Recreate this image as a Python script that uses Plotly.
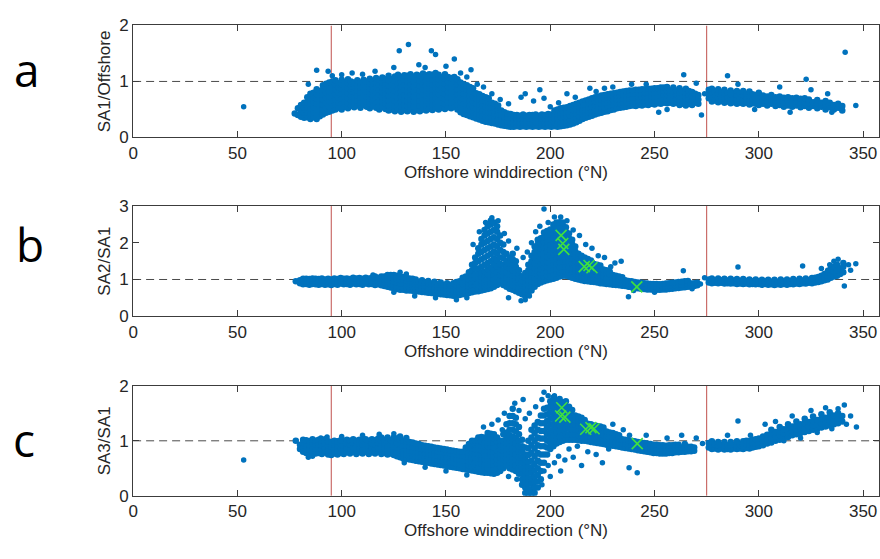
import plotly.graph_objects as go

# ---------------------------------------------------------------------------
# Data: wind-direction bins (deg N) with the ratio values observed in each bin
# ---------------------------------------------------------------------------

# Panel a: SA1 / Offshore
A_COLS = [
    (77.5, [0.43]), (79, [0.4, 0.52]), (80.5, [0.37, 0.47, 0.58]),
    (82, [0.35, 0.44, 0.53, 0.62]), (83.5, [0.36, 0.45, 0.54, 0.63, 0.72]),
    (85, [0.33, 0.42, 0.51, 0.6, 0.69, 0.78]), (86.5, [0.36, 0.45, 0.54, 0.63, 0.72, 0.8]),
    (88, [0.33, 0.42, 0.51, 0.6, 0.69, 0.77, 0.86]), (89.5, [0.38, 0.47, 0.56, 0.65, 0.74, 0.83]),
    (91, [0.41, 0.5, 0.59, 0.68, 0.77, 0.86, 0.93]), (92.5, [0.44, 0.53, 0.62, 0.71, 0.8, 0.89, 0.96]),
    (94, [0.46, 0.55, 0.64, 0.73, 0.82, 0.91, 0.98]), (95.5, [0.48, 0.57, 0.66, 0.75, 0.84, 0.93, 1.0]),
    (97, [0.5, 0.59, 0.68, 0.77, 0.86, 0.95, 1.02]), (98.5, [0.53, 0.62, 0.71, 0.8, 0.89, 0.97]),
    (100, [0.5, 0.6, 0.69, 0.78, 0.87, 0.95, 1.03]), (101.5, [0.55, 0.64, 0.73, 0.82, 0.91, 0.99]),
    (103, [0.52, 0.61, 0.7, 0.79, 0.88, 0.97, 1.04]), (104.5, [0.56, 0.65, 0.74, 0.83, 0.92, 1.0]),
    (106, [0.54, 0.63, 0.72, 0.81, 0.9, 0.98]), (107.5, [0.57, 0.66, 0.75, 0.84, 0.93, 1.02]),
    (109, [0.53, 0.62, 0.71, 0.8, 0.89, 0.98]), (110.5, [0.58, 0.67, 0.76, 0.85, 0.94, 1.03]),
    (112, [0.55, 0.64, 0.73, 0.82, 0.91, 1.0]), (113.5, [0.52, 0.61, 0.7, 0.79, 0.88, 0.97, 1.05]),
    (115, [0.56, 0.65, 0.74, 0.83, 0.92, 1.01]), (116.5, [0.53, 0.62, 0.71, 0.8, 0.89, 0.98, 1.06]),
    (118, [0.5, 0.59, 0.68, 0.77, 0.86, 0.95, 1.03]), (119.5, [0.54, 0.63, 0.72, 0.81, 0.9, 0.99, 1.07]),
    (121, [0.51, 0.6, 0.69, 0.78, 0.87, 0.96, 1.04]), (122.5, [0.48, 0.57, 0.66, 0.75, 0.84, 0.93, 1.02, 1.1]),
    (124, [0.5, 0.59, 0.68, 0.77, 0.86, 0.95, 1.04]), (125.5, [0.47, 0.56, 0.65, 0.74, 0.83, 0.92, 1.01, 1.09]),
    (127, [0.5, 0.59, 0.68, 0.77, 0.86, 0.95, 1.04, 1.12]), (128.5, [0.46, 0.55, 0.64, 0.73, 0.82, 0.91, 1.0, 1.08]),
    (130, [0.49, 0.58, 0.67, 0.76, 0.85, 0.94, 1.03, 1.11]), (131.5, [0.47, 0.56, 0.65, 0.74, 0.83, 0.92, 1.01, 1.1]),
    (133, [0.5, 0.59, 0.68, 0.77, 0.86, 0.95, 1.04, 1.13]), (134.5, [0.46, 0.55, 0.64, 0.73, 0.82, 0.91, 1.0, 1.09]),
    (136, [0.49, 0.58, 0.67, 0.76, 0.85, 0.94, 1.03, 1.12]), (137.5, [0.47, 0.56, 0.65, 0.74, 0.83, 0.92, 1.01, 1.1]),
    (139, [0.5, 0.59, 0.68, 0.77, 0.86, 0.95, 1.04, 1.14]), (140.5, [0.48, 0.57, 0.66, 0.75, 0.84, 0.93, 1.02, 1.11]),
    (142, [0.51, 0.6, 0.69, 0.78, 0.87, 0.96, 1.05, 1.13]), (143.5, [0.49, 0.58, 0.67, 0.76, 0.85, 0.94, 1.03, 1.12]),
    (145, [0.52, 0.61, 0.7, 0.79, 0.88, 0.97, 1.06, 1.15]), (146.5, [0.5, 0.59, 0.68, 0.77, 0.86, 0.95, 1.04, 1.12]),
    (148, [0.53, 0.62, 0.71, 0.8, 0.89, 0.98, 1.07]), (149.5, [0.51, 0.6, 0.69, 0.78, 0.87, 0.96, 1.05, 1.13]),
    (151, [0.54, 0.63, 0.72, 0.81, 0.9, 0.99, 1.08]), (152.5, [0.52, 0.61, 0.7, 0.79, 0.88, 0.97, 1.06]),
    (154, [0.55, 0.64, 0.73, 0.82, 0.91, 1.0, 1.08]), (155.5, [0.5, 0.59, 0.68, 0.77, 0.86, 0.95, 1.04]),
    (157, [0.45, 0.54, 0.63, 0.72, 0.81, 0.9, 0.98]), (158.5, [0.42, 0.51, 0.6, 0.69, 0.78, 0.87, 0.95]),
    (160, [0.4, 0.49, 0.58, 0.67, 0.76, 0.85, 0.93]), (161.5, [0.38, 0.47, 0.56, 0.65, 0.74, 0.83, 0.9]),
    (163, [0.36, 0.45, 0.54, 0.63, 0.72, 0.81, 0.88]), (164.5, [0.34, 0.43, 0.52, 0.61, 0.7, 0.79]),
    (166, [0.32, 0.41, 0.5, 0.59, 0.68, 0.77]), (167.5, [0.3, 0.39, 0.48, 0.57, 0.66, 0.74]),
    (169, [0.28, 0.37, 0.46, 0.55, 0.64, 0.72]), (170.5, [0.27, 0.36, 0.45, 0.54, 0.63, 0.7]),
    (172, [0.26, 0.35, 0.44, 0.53, 0.62]), (173.5, [0.25, 0.34, 0.43, 0.52, 0.6]),
    (175, [0.23, 0.32, 0.41, 0.5, 0.57]), (176.5, [0.22, 0.31, 0.4, 0.48]),
    (178, [0.21, 0.29, 0.37, 0.45]), (179.5, [0.2, 0.28, 0.36, 0.43]),
    (181, [0.19, 0.27, 0.35, 0.42]), (182.5, [0.19, 0.26, 0.33, 0.4]),
    (184, [0.2, 0.27, 0.34, 0.4]), (185.5, [0.19, 0.26, 0.33, 0.39]),
    (187, [0.2, 0.27, 0.34, 0.41]), (188.5, [0.19, 0.26, 0.33, 0.39]),
    (190, [0.2, 0.27, 0.34, 0.4]), (191.5, [0.19, 0.26, 0.33, 0.4]),
    (193, [0.2, 0.27, 0.34, 0.41]), (194.5, [0.19, 0.26, 0.33, 0.39]),
    (196, [0.2, 0.27, 0.34, 0.41]), (197.5, [0.19, 0.26, 0.33, 0.4]),
    (199, [0.2, 0.27, 0.34, 0.42]), (200.5, [0.19, 0.26, 0.33, 0.41]),
    (202, [0.2, 0.27, 0.34, 0.42, 0.48]), (203.5, [0.19, 0.26, 0.34, 0.42, 0.5]),
    (205, [0.2, 0.28, 0.36, 0.44, 0.52]), (206.5, [0.21, 0.29, 0.37, 0.45, 0.53]),
    (208, [0.22, 0.3, 0.38, 0.46, 0.54]), (209.5, [0.23, 0.31, 0.39, 0.47, 0.56]),
    (211, [0.25, 0.33, 0.41, 0.49, 0.58]), (212.5, [0.27, 0.35, 0.43, 0.51, 0.6]),
    (214, [0.3, 0.38, 0.46, 0.54, 0.62]), (215.5, [0.33, 0.41, 0.49, 0.57, 0.64]),
    (217, [0.35, 0.43, 0.51, 0.59, 0.66]), (218.5, [0.37, 0.45, 0.53, 0.61, 0.68]),
    (220, [0.39, 0.47, 0.55, 0.63, 0.7]), (221.5, [0.41, 0.49, 0.57, 0.65, 0.72]),
    (223, [0.43, 0.51, 0.59, 0.67, 0.73]), (224.5, [0.44, 0.52, 0.6, 0.68, 0.75]),
    (226, [0.46, 0.54, 0.62, 0.7, 0.76]), (227.5, [0.47, 0.55, 0.63, 0.71, 0.77]),
    (229, [0.49, 0.57, 0.65, 0.72, 0.78]), (230.5, [0.5, 0.58, 0.66, 0.73, 0.79]),
    (232, [0.52, 0.6, 0.67, 0.74, 0.8]), (233.5, [0.53, 0.61, 0.68, 0.75, 0.81]),
    (235, [0.54, 0.62, 0.69, 0.76, 0.82]), (236.5, [0.55, 0.63, 0.7, 0.77, 0.83]),
    (238, [0.56, 0.63, 0.7, 0.77, 0.84]), (239.5, [0.57, 0.64, 0.71, 0.78, 0.84]),
    (241, [0.56, 0.64, 0.71, 0.78, 0.85]), (242.5, [0.58, 0.65, 0.72, 0.79, 0.85]),
    (244, [0.57, 0.65, 0.72, 0.79, 0.86]), (245.5, [0.59, 0.66, 0.73, 0.8, 0.86]),
    (247, [0.58, 0.66, 0.73, 0.8, 0.87]), (248.5, [0.6, 0.67, 0.74, 0.81, 0.87]),
    (250, [0.59, 0.67, 0.74, 0.81, 0.88]), (251.5, [0.61, 0.68, 0.75, 0.82, 0.88]),
    (253, [0.6, 0.68, 0.75, 0.82, 0.89]), (254.5, [0.62, 0.69, 0.76, 0.83, 0.89]),
    (256, [0.61, 0.69, 0.76, 0.83, 0.9]), (257.5, [0.62, 0.7, 0.77, 0.84]),
    (259, [0.6, 0.68, 0.75, 0.82, 0.89]), (260.5, [0.62, 0.7, 0.77, 0.84]),
    (262, [0.58, 0.66, 0.74, 0.81, 0.88]), (263.5, [0.6, 0.68, 0.76, 0.83]),
    (265, [0.57, 0.65, 0.73, 0.8, 0.87]), (266.5, [0.6, 0.68, 0.76, 0.83]),
    (268, [0.58, 0.66, 0.74, 0.81]), (269.5, [0.62, 0.7, 0.78]), (271, [0.6, 0.68, 0.76]),
    (276, [0.7, 0.78, 0.85]), (277.5, [0.64, 0.72, 0.8, 0.87]), (279, [0.66, 0.74, 0.82]),
    (280.5, [0.63, 0.71, 0.79, 0.86]), (282, [0.65, 0.73, 0.81]), (283.5, [0.62, 0.7, 0.78, 0.85]),
    (285, [0.64, 0.72, 0.8]), (286.5, [0.61, 0.69, 0.77, 0.84]), (288, [0.63, 0.71, 0.79]),
    (289.5, [0.6, 0.68, 0.76, 0.83]), (291, [0.62, 0.7, 0.78]), (292.5, [0.6, 0.68, 0.76, 0.83]),
    (294, [0.62, 0.7, 0.78]), (295.5, [0.59, 0.67, 0.75, 0.82]), (297, [0.61, 0.69, 0.77]),
    (298.5, [0.6, 0.68, 0.76]), (300, [0.58, 0.66, 0.74, 0.8]), (302, [0.6, 0.68, 0.75]),
    (304, [0.57, 0.65, 0.73]), (306, [0.6, 0.68, 0.76]), (308, [0.56, 0.64, 0.72]),
    (310, [0.58, 0.66, 0.73]), (312, [0.55, 0.63, 0.71]), (314, [0.57, 0.65, 0.72]),
    (316, [0.55, 0.63, 0.7]), (318, [0.57, 0.64, 0.71]), (320, [0.54, 0.62, 0.69]),
    (322, [0.56, 0.63, 0.7]), (324, [0.53, 0.61, 0.68]), (326, [0.56, 0.63]),
    (328, [0.52, 0.6, 0.67]), (330, [0.55, 0.62]), (332, [0.5, 0.58, 0.65]),
    (334, [0.54, 0.62]), (336, [0.5, 0.58]), (338, [0.53, 0.6]), (340, [0.48, 0.56]),
]
A_SPARSE = [
    (53, 0.55), (84, 0.95), (88, 1.2), (93.5, 1.18), (95.5, 1.1), (100, 1.12), (105, 1.15),
    (110, 1.13), (116, 1.18), (127.6, 1.55), (132, 1.66), (143, 1.55), (145, 1.48), (154, 1.4),
    (162, 1.21), (125, 1.25), (137, 1.3), (140, 1.25), (150, 1.27), (157, 1.15), (160, 1.08),
    (165, 0.95), (168, 0.9), (172, 0.78), (176, 0.68), (180, 0.6), (186, 0.72), (188, 0.78),
    (192, 0.65), (195, 0.85), (197, 0.7), (200, 0.55), (204, 0.62), (208, 0.78), (212, 0.72),
    (216, 0.58), (219, 0.88), (222, 0.82), (226, 0.88), (230, 0.9), (239, 0.95), (246, 0.95),
    (252, 0.45), (256, 0.5), (264, 1.12), (270, 0.97), (272.5, 0.4), (274, 0.78), (285, 1.1),
    (290, 0.95), (310, 0.9), (322.7, 1.04), (325, 0.85), (333, 0.78), (341.4, 1.52),
    (346.5, 0.57), (335, 0.45), (315, 0.45), (298, 0.5),
]

# Panel b: SA2 / SA1
B_COLS = [
    (78, [0.95]), (80, [0.9, 0.98]), (81.5, [0.87, 0.95, 1.02]), (83, [0.88, 0.96, 1.02]),
    (84.5, [0.86, 0.94, 1.01]), (86, [0.88, 0.96, 1.03]), (87.5, [0.87, 0.95, 1.02]),
    (89, [0.86, 0.94, 1.01]), (90.5, [0.88, 0.96, 1.03]), (92, [0.86, 0.94, 1.0]),
    (93.5, [0.87, 0.95, 1.02]), (95, [0.85, 0.93, 1.0]), (96.5, [0.88, 0.96, 1.03]),
    (98, [0.86, 0.94, 1.01]), (99.5, [0.89, 0.97, 1.04]), (101, [0.87, 0.95, 1.02]),
    (102.5, [0.88, 0.96, 1.03]), (104, [0.86, 0.94, 1.01]), (105.5, [0.89, 0.97, 1.05]),
    (107, [0.87, 0.95, 1.03]), (108.5, [0.88, 0.96, 1.04]), (110, [0.86, 0.94, 1.02]),
    (111.5, [0.89, 0.97, 1.05]), (113, [0.87, 0.95, 1.03]), (114.5, [0.88, 0.96, 1.05]),
    (116, [0.85, 0.94, 1.02, 1.08]), (117.5, [0.87, 0.96, 1.04]), (119, [0.84, 0.93, 1.02, 1.08]),
    (120.5, [0.82, 0.91, 1.0, 1.08]), (122, [0.8, 0.89, 0.98, 1.07, 1.12]),
    (123.5, [0.78, 0.87, 0.96, 1.05, 1.12]), (125, [0.76, 0.85, 0.94, 1.03, 1.12]),
    (126.5, [0.74, 0.83, 0.92, 1.01, 1.1]), (128, [0.72, 0.81, 0.9, 0.99, 1.08]),
    (129.5, [0.72, 0.81, 0.9, 0.99, 1.07]), (131, [0.7, 0.79, 0.88, 0.97, 1.05]),
    (132.5, [0.7, 0.79, 0.88, 0.96, 1.03]), (134, [0.69, 0.78, 0.87, 0.95, 1.02]),
    (135.5, [0.68, 0.77, 0.86, 0.94, 1.0]), (137, [0.67, 0.76, 0.85, 0.93]),
    (138.5, [0.66, 0.75, 0.84, 0.92, 0.98]), (140, [0.65, 0.74, 0.83, 0.91]),
    (141.5, [0.64, 0.73, 0.82, 0.9, 0.96]), (143, [0.63, 0.72, 0.81, 0.89]),
    (144.5, [0.62, 0.71, 0.8, 0.88, 0.94]), (146, [0.61, 0.7, 0.79, 0.87]),
    (147.5, [0.6, 0.69, 0.78, 0.86, 0.92]), (149, [0.59, 0.68, 0.77, 0.85]),
    (150.5, [0.58, 0.67, 0.76, 0.84, 0.9]), (152, [0.57, 0.66, 0.75, 0.84]),
    (153.5, [0.56, 0.65, 0.74, 0.83, 0.9]), (155, [0.57, 0.66, 0.75, 0.84, 0.93]),
    (156.5, [0.58, 0.67, 0.76, 0.85, 0.95]), (158, [0.6, 0.69, 0.78, 0.87, 0.97, 1.05]),
    (159.5, [0.62, 0.71, 0.8, 0.89, 0.98, 1.08]), (161, [0.63, 0.72, 0.81, 0.9, 1.0, 1.1, 1.2]),
    (162.5, [0.65, 0.74, 0.83, 0.92, 1.02, 1.12, 1.25, 1.4]),
    (164, [0.67, 0.76, 0.85, 0.94, 1.04, 1.14, 1.3, 1.45, 1.6]),
    (165.5, [0.68, 0.77, 0.86, 0.95, 1.05, 1.16, 1.3, 1.5, 1.7, 1.85]),
    (167, [0.7, 0.79, 0.88, 0.97, 1.07, 1.18, 1.35, 1.55, 1.75, 1.95, 2.1]),
    (168.5, [0.72, 0.81, 0.9, 0.99, 1.1, 1.22, 1.4, 1.6, 1.8, 2.0, 2.2, 2.35]),
    (170, [0.74, 0.83, 0.92, 1.02, 1.14, 1.28, 1.45, 1.65, 1.85, 2.05, 2.25, 2.45]),
    (171.5, [0.76, 0.86, 0.96, 1.06, 1.18, 1.32, 1.5, 1.7, 1.9, 2.1, 2.3, 2.5, 2.6]),
    (173, [0.8, 0.9, 1.0, 1.12, 1.25, 1.4, 1.58, 1.76, 1.95, 2.15, 2.35, 2.55]),
    (174.5, [0.85, 0.95, 1.06, 1.2, 1.35, 1.52, 1.7, 1.9, 2.1, 2.3, 2.45]),
    (176, [0.9, 1.0, 1.12, 1.26, 1.42, 1.6, 1.8, 2.0, 2.2]),
    (177.5, [0.85, 0.97, 1.1, 1.25, 1.4, 1.58, 1.75, 1.95]),
    (179, [0.8, 0.92, 1.05, 1.2, 1.35, 1.5, 1.7]),
    (180.5, [0.75, 0.87, 1.0, 1.15, 1.3, 1.45, 1.6]),
    (182, [0.72, 0.84, 0.97, 1.1, 1.25, 1.4, 1.55, 1.7]),
    (183.5, [0.68, 0.8, 0.93, 1.06, 1.2, 1.35, 1.5]),
    (185, [0.64, 0.76, 0.88, 1.0, 1.12, 1.25]),
    (186.5, [0.6, 0.72, 0.84, 0.96, 1.08]),
    (188, [0.55, 0.68, 0.8, 0.93, 1.05, 1.18]),
    (189.5, [0.6, 0.72, 0.85, 0.98, 1.1, 1.25, 1.4]),
    (191, [0.7, 0.82, 0.95, 1.08, 1.2, 1.35, 1.5, 1.65]),
    (192.5, [0.8, 0.92, 1.05, 1.18, 1.3, 1.45, 1.6, 1.75, 1.9]),
    (194, [0.88, 1.0, 1.12, 1.25, 1.38, 1.52, 1.66, 1.8, 1.95, 2.08]),
    (195.5, [0.92, 1.04, 1.16, 1.28, 1.42, 1.56, 1.7, 1.84, 1.98, 2.12]),
    (197, [0.95, 1.07, 1.2, 1.33, 1.46, 1.6, 1.74, 1.88, 2.02, 2.16, 2.28]),
    (198.5, [0.98, 1.1, 1.22, 1.35, 1.48, 1.62, 1.76, 1.9, 2.04, 2.18, 2.32]),
    (200, [1.0, 1.12, 1.25, 1.38, 1.52, 1.66, 1.8, 1.94, 2.08, 2.22, 2.36]),
    (201.5, [1.02, 1.14, 1.27, 1.4, 1.54, 1.68, 1.82, 1.96, 2.1, 2.24, 2.38, 2.5]),
    (203, [1.05, 1.17, 1.3, 1.43, 1.57, 1.71, 1.85, 1.99, 2.13, 2.27, 2.41, 2.55]),
    (204.5, [1.08, 1.2, 1.33, 1.46, 1.6, 1.74, 1.88, 2.02, 2.16, 2.3, 2.44, 2.56]),
    (206, [1.1, 1.22, 1.35, 1.48, 1.62, 1.76, 1.9, 2.04, 2.18, 2.32, 2.45, 2.55]),
    (207.5, [1.1, 1.22, 1.35, 1.48, 1.62, 1.76, 1.9, 2.04, 2.18, 2.3, 2.42]),
    (209, [1.08, 1.2, 1.33, 1.46, 1.6, 1.74, 1.88, 2.0, 2.12, 2.25]),
    (210.5, [1.05, 1.17, 1.3, 1.43, 1.56, 1.7, 1.83, 1.96, 2.08]),
    (212, [1.02, 1.14, 1.26, 1.38, 1.5, 1.63, 1.76, 1.9]),
    (213.5, [1.0, 1.11, 1.22, 1.34, 1.46, 1.58, 1.7]),
    (215, [0.98, 1.08, 1.19, 1.3, 1.42, 1.54, 1.65]),
    (216.5, [0.96, 1.06, 1.17, 1.28, 1.39, 1.5, 1.6]),
    (218, [0.95, 1.05, 1.15, 1.25, 1.36, 1.47, 1.56]),
    (219.5, [0.94, 1.04, 1.14, 1.24, 1.34, 1.44, 1.52]),
    (221, [0.93, 1.03, 1.13, 1.23, 1.33, 1.42]), (222.5, [0.92, 1.02, 1.12, 1.22, 1.32, 1.4]),
    (224, [0.9, 1.0, 1.1, 1.2, 1.3, 1.38]), (225.5, [0.89, 0.99, 1.09, 1.18, 1.27]),
    (227, [0.88, 0.98, 1.07, 1.16, 1.25]), (228.5, [0.87, 0.96, 1.05, 1.14, 1.22]),
    (230, [0.86, 0.95, 1.04, 1.12]), (231.5, [0.85, 0.94, 1.02, 1.1]),
    (233, [0.84, 0.93, 1.01, 1.08]), (234.5, [0.83, 0.92, 1.0, 1.06]),
    (236, [0.82, 0.9, 0.98]), (237.5, [0.8, 0.88, 0.96]), (239, [0.79, 0.87, 0.95]),
    (240.5, [0.77, 0.85, 0.93]), (242, [0.76, 0.84, 0.92]), (243.5, [0.75, 0.83, 0.91]),
    (245, [0.74, 0.82, 0.9]), (246.5, [0.73, 0.81, 0.89]), (248, [0.73, 0.81, 0.88]),
    (249.5, [0.72, 0.8, 0.88]), (251, [0.72, 0.8, 0.88]), (252.5, [0.72, 0.8, 0.87]),
    (254, [0.73, 0.81, 0.88]), (255.5, [0.73, 0.81, 0.89]), (257, [0.74, 0.82, 0.9]),
    (258.5, [0.75, 0.83, 0.91]), (260, [0.76, 0.84, 0.92]), (261.5, [0.77, 0.85, 0.93]),
    (263, [0.78, 0.86, 0.94]), (264.5, [0.79, 0.87, 0.95]), (266, [0.8, 0.88, 0.96]),
    (267.5, [0.81, 0.89]), (269, [0.82, 0.9]), (270.5, [0.84, 0.91]),
    (276, [0.92, 1.0]), (277.5, [0.9, 0.97, 1.03]), (279, [0.91, 0.98]),
    (280.5, [0.9, 0.97, 1.03]), (282, [0.91, 0.98]), (283.5, [0.89, 0.96, 1.02]),
    (285, [0.9, 0.97]), (286.5, [0.89, 0.96, 1.02]), (288, [0.9, 0.97]),
    (289.5, [0.88, 0.95, 1.01]), (291, [0.89, 0.96]), (292.5, [0.88, 0.95, 1.01]),
    (294, [0.89, 0.96]), (295.5, [0.87, 0.94, 1.0]), (297, [0.88, 0.95]),
    (298.5, [0.87, 0.94, 1.0]), (300, [0.88, 0.95]), (301.5, [0.86, 0.93, 0.99]),
    (303, [0.88, 0.95]), (304.5, [0.86, 0.93, 0.99]), (306, [0.87, 0.94]),
    (307.5, [0.85, 0.92, 0.99]), (309, [0.87, 0.94]), (310.5, [0.86, 0.93, 1.0]),
    (312, [0.88, 0.95]), (313.5, [0.86, 0.93, 1.0]), (315, [0.88, 0.95]),
    (316.5, [0.87, 0.94, 1.01]), (318, [0.89, 0.96]), (319.5, [0.88, 0.95, 1.02]),
    (321, [0.9, 0.97]), (322.5, [0.89, 0.96, 1.03]), (324, [0.91, 0.98]),
    (325.5, [0.9, 0.97, 1.04]), (327, [0.92, 0.99, 1.05]), (328.5, [0.93, 1.0, 1.07]),
    (330, [0.95, 1.02, 1.1]), (331.5, [0.98, 1.06, 1.15]), (333, [1.0, 1.1, 1.2]),
    (334.5, [1.05, 1.18, 1.3]), (336, [1.08, 1.22, 1.35]), (337.5, [1.1, 1.25, 1.4]),
    (339, [1.15, 1.3]), (340.5, [1.2, 1.35, 1.45]),
]
B_SPARSE = [
    (197, 2.92), (290, 1.34), (321, 1.37), (346.5, 1.43), (341, 0.82), (263.8, 1.24),
    (237.5, 0.53), (163, 1.95), (166, 2.3), (169, 2.55), (172, 2.68), (175, 2.6),
    (178, 2.25), (180, 2.05), (184, 1.85), (187, 1.6), (189, 1.75), (191, 2.0), (193, 2.3),
    (195, 2.45), (199, 2.55), (202, 2.7), (205, 2.7), (208, 2.6), (211, 2.35), (214, 2.2),
    (217, 1.95), (220, 1.85), (223, 1.65), (226, 1.6), (231, 1.45), (234, 1.5), (229, 1.35),
    (180, 0.5), (186, 0.42), (188, 0.45), (190, 0.55), (155, 0.45), (160, 0.5), (145, 0.5),
    (135, 0.55), (125, 0.65), (128, 1.2), (131, 1.15), (115, 1.12), (240, 0.7), (250, 0.65),
    (268, 0.75), (272, 0.88), (274, 1.05), (330, 1.3), (334, 1.4), (336, 1.5), (338, 1.55),
    (333, 1.25), (344, 1.25), (343, 1.4),
]
B_MARKED_X = [205.2, 206.0, 206.5, 216.3, 218.6, 220.0, 241.5]
B_MARKED_Y = [2.2, 1.98, 1.82, 1.35, 1.38, 1.32, 0.8]

# Panel c: SA3 / SA1
C_COLS = [
    (78, [1.0]), (80, [0.85, 0.93]), (81.5, [0.8, 0.88, 0.96, 1.02]),
    (83, [0.78, 0.86, 0.94, 1.01]), (84.5, [0.76, 0.84, 0.92, 0.99]),
    (86, [0.79, 0.87, 0.95, 1.03]), (87.5, [0.77, 0.85, 0.93, 1.0]),
    (89, [0.78, 0.86, 0.94, 1.02]), (90.5, [0.76, 0.84, 0.92, 1.0]),
    (92, [0.79, 0.87, 0.95, 1.03]), (93.5, [0.75, 0.83, 0.91, 0.99]),
    (95, [0.74, 0.82, 0.9, 0.98]), (96.5, [0.77, 0.85, 0.93, 1.0]),
    (98, [0.75, 0.83, 0.91, 0.99]), (99.5, [0.78, 0.86, 0.94, 1.01]),
    (101, [0.76, 0.84, 0.92, 1.0]), (102.5, [0.79, 0.87, 0.95, 1.02]),
    (104, [0.77, 0.85, 0.93, 1.0]), (105.5, [0.8, 0.88, 0.96, 1.03]),
    (107, [0.76, 0.84, 0.92, 1.0]), (108.5, [0.79, 0.87, 0.95, 1.02]),
    (110, [0.77, 0.85, 0.93, 1.01]), (111.5, [0.8, 0.88, 0.96, 1.03]),
    (113, [0.76, 0.84, 0.92, 1.0]), (114.5, [0.79, 0.87, 0.95, 1.03]),
    (116, [0.77, 0.85, 0.93, 1.01]), (117.5, [0.8, 0.88, 0.96, 1.04]),
    (119, [0.76, 0.84, 0.92, 1.0, 1.06]), (120.5, [0.78, 0.86, 0.94, 1.02]),
    (122, [0.75, 0.83, 0.91, 0.99, 1.06]), (123.5, [0.77, 0.85, 0.93, 1.01]),
    (125, [0.74, 0.82, 0.9, 0.98, 1.06]), (126.5, [0.72, 0.8, 0.88, 0.96, 1.04]),
    (128, [0.7, 0.78, 0.86, 0.94, 1.02, 1.08]), (129.5, [0.68, 0.76, 0.84, 0.92, 1.0]),
    (131, [0.67, 0.75, 0.83, 0.91, 0.99, 1.05]), (132.5, [0.66, 0.74, 0.82, 0.9, 0.98]),
    (134, [0.65, 0.73, 0.81, 0.89, 0.97]), (135.5, [0.64, 0.72, 0.8, 0.88, 0.95]),
    (137, [0.63, 0.71, 0.79, 0.87, 0.94]), (138.5, [0.62, 0.7, 0.78, 0.86, 0.92]),
    (140, [0.61, 0.69, 0.77, 0.85, 0.91]), (141.5, [0.6, 0.68, 0.76, 0.84, 0.9]),
    (143, [0.59, 0.67, 0.75, 0.83, 0.89]), (144.5, [0.58, 0.66, 0.74, 0.82, 0.88]),
    (146, [0.57, 0.65, 0.73, 0.81, 0.87]), (147.5, [0.56, 0.64, 0.72, 0.8, 0.86]),
    (149, [0.55, 0.63, 0.71, 0.79, 0.85]), (150.5, [0.54, 0.62, 0.7, 0.78, 0.84]),
    (152, [0.53, 0.61, 0.69, 0.77, 0.83]), (153.5, [0.52, 0.6, 0.68, 0.76, 0.82]),
    (155, [0.51, 0.59, 0.67, 0.75, 0.81]), (156.5, [0.5, 0.58, 0.66, 0.74, 0.8]),
    (158, [0.49, 0.57, 0.65, 0.73, 0.8]), (159.5, [0.48, 0.56, 0.64, 0.72, 0.8, 0.88]),
    (161, [0.47, 0.55, 0.63, 0.71, 0.79, 0.87, 0.94]),
    (162.5, [0.46, 0.54, 0.62, 0.7, 0.78, 0.86, 0.94, 1.0]),
    (164, [0.45, 0.53, 0.61, 0.69, 0.77, 0.85, 0.93, 1.0]),
    (165.5, [0.44, 0.52, 0.6, 0.68, 0.76, 0.84, 0.92, 1.0, 1.06]),
    (167, [0.43, 0.51, 0.59, 0.67, 0.75, 0.83, 0.91, 0.99, 1.07]),
    (168.5, [0.42, 0.5, 0.58, 0.66, 0.74, 0.82, 0.9, 0.98, 1.06]),
    (170, [0.42, 0.5, 0.58, 0.66, 0.74, 0.82, 0.9, 0.98, 1.06, 1.14]),
    (171.5, [0.41, 0.49, 0.57, 0.65, 0.73, 0.81, 0.89, 0.97, 1.05, 1.13]),
    (173, [0.4, 0.48, 0.56, 0.64, 0.72, 0.8, 0.88, 0.96, 1.04, 1.12]),
    (174.5, [0.42, 0.5, 0.58, 0.66, 0.74, 0.82, 0.9, 0.98, 1.06]),
    (176, [0.45, 0.53, 0.61, 0.69, 0.77, 0.85, 0.93, 1.0]),
    (177.5, [0.5, 0.58, 0.66, 0.74, 0.82, 0.9, 1.0, 1.12]),
    (179, [0.55, 0.65, 0.75, 0.85, 0.95, 1.05, 1.15, 1.3]),
    (180.5, [0.5, 0.6, 0.7, 0.8, 0.9, 1.0, 1.1, 1.2, 1.32, 1.45]),
    (182, [0.48, 0.58, 0.68, 0.78, 0.88, 0.98, 1.08, 1.2, 1.32, 1.45, 1.58]),
    (183.5, [0.45, 0.55, 0.65, 0.75, 0.85, 0.95, 1.05, 1.17, 1.3, 1.42]),
    (185, [0.4, 0.5, 0.6, 0.7, 0.8, 0.9, 1.0, 1.12, 1.25]),
    (186.5, [0.2, 0.3, 0.4, 0.5, 0.6, 0.7, 0.8, 0.9, 1.02]),
    (188, [0.05, 0.15, 0.25, 0.35, 0.45, 0.55, 0.65, 0.75, 0.88]),
    (189.5, [0.03, 0.12, 0.22, 0.32, 0.42, 0.52, 0.62, 0.74, 0.86, 1.0]),
    (191, [0.03, 0.12, 0.22, 0.32, 0.42, 0.52, 0.64, 0.78, 0.92, 1.06, 1.2]),
    (192.5, [0.05, 0.15, 0.25, 0.35, 0.46, 0.58, 0.72, 0.86, 1.0, 1.14, 1.28]),
    (194, [0.15, 0.26, 0.38, 0.5, 0.64, 0.78, 0.92, 1.06, 1.2, 1.34]),
    (195.5, [0.3, 0.45, 0.6, 0.75, 0.9, 1.04, 1.18, 1.32, 1.46]),
    (197, [0.6, 0.75, 0.9, 1.04, 1.18, 1.32, 1.46, 1.58]),
    (198.5, [0.75, 0.88, 1.0, 1.12, 1.24, 1.36, 1.48, 1.6]),
    (200, [0.85, 0.96, 1.07, 1.18, 1.29, 1.4, 1.51, 1.62, 1.72]),
    (201.5, [0.9, 1.0, 1.1, 1.2, 1.3, 1.4, 1.5, 1.6, 1.7, 1.78]),
    (203, [0.95, 1.05, 1.15, 1.25, 1.35, 1.45, 1.55, 1.65, 1.74]),
    (204.5, [0.98, 1.08, 1.18, 1.28, 1.38, 1.48, 1.58, 1.68, 1.76]),
    (206, [1.0, 1.1, 1.2, 1.3, 1.4, 1.5, 1.6, 1.7]),
    (207.5, [1.02, 1.12, 1.22, 1.32, 1.42, 1.52, 1.62, 1.72]),
    (209, [1.02, 1.12, 1.22, 1.32, 1.42, 1.52, 1.62]),
    (210.5, [1.02, 1.11, 1.2, 1.29, 1.38, 1.47, 1.56]),
    (212, [1.02, 1.11, 1.2, 1.29, 1.38, 1.46]), (213.5, [1.01, 1.1, 1.19, 1.28, 1.36, 1.44]),
    (215, [1.0, 1.09, 1.18, 1.27, 1.35, 1.42]), (216.5, [1.0, 1.08, 1.16, 1.24, 1.32, 1.38]),
    (218, [0.99, 1.07, 1.15, 1.23, 1.31]), (219.5, [0.98, 1.06, 1.14, 1.22, 1.3]),
    (221, [0.97, 1.05, 1.13, 1.21, 1.28]), (222.5, [0.96, 1.04, 1.12, 1.2, 1.27]),
    (224, [0.95, 1.03, 1.11, 1.19, 1.26]), (225.5, [0.94, 1.02, 1.1, 1.18, 1.24]),
    (227, [0.93, 1.01, 1.09, 1.17]), (228.5, [0.92, 1.0, 1.08, 1.15]),
    (230, [0.91, 0.99, 1.07, 1.14]), (231.5, [0.9, 0.98, 1.06, 1.12]),
    (233, [0.89, 0.97, 1.05, 1.1]), (234.5, [0.88, 0.96, 1.03]), (236, [0.87, 0.95, 1.02]),
    (237.5, [0.86, 0.94, 1.01]), (239, [0.85, 0.93, 1.0]), (240.5, [0.84, 0.92, 0.99]),
    (242, [0.83, 0.91, 0.98]), (243.5, [0.82, 0.9, 0.97]), (245, [0.81, 0.89, 0.96]),
    (246.5, [0.8, 0.88, 0.95]), (248, [0.79, 0.87, 0.94]), (249.5, [0.78, 0.86, 0.93]),
    (251, [0.78, 0.86, 0.93]), (252.5, [0.77, 0.85, 0.92]), (254, [0.77, 0.85, 0.92]),
    (255.5, [0.77, 0.85, 0.91]), (257, [0.78, 0.86, 0.92]), (258.5, [0.78, 0.86, 0.92]),
    (260, [0.79, 0.87, 0.93]), (261.5, [0.79, 0.87, 0.93]), (263, [0.8, 0.88]),
    (264.5, [0.8, 0.88, 0.94]), (266, [0.81, 0.89]), (267.5, [0.81, 0.89]), (269, [0.82, 0.88]),
    (276, [0.88, 0.96]), (277.5, [0.85, 0.92, 0.99]), (279, [0.86, 0.93]),
    (280.5, [0.84, 0.91, 0.98]), (282, [0.86, 0.93]), (283.5, [0.84, 0.91, 0.98]),
    (285, [0.85, 0.92]), (286.5, [0.84, 0.91, 0.98]), (288, [0.86, 0.93]),
    (289.5, [0.85, 0.92, 0.99]), (291, [0.86, 0.93]), (292.5, [0.85, 0.92, 0.99]),
    (294, [0.87, 0.94, 1.0]), (295.5, [0.86, 0.93, 1.0]), (297, [0.88, 0.95, 1.02]),
    (298.5, [0.89, 0.96, 1.03]), (300, [0.9, 0.97, 1.04]), (302, [0.92, 1.0, 1.08]),
    (304, [0.95, 1.03, 1.11]), (306, [0.97, 1.05, 1.13, 1.2]), (308, [1.0, 1.08, 1.16]),
    (310, [1.02, 1.1, 1.18, 1.25]), (312, [1.05, 1.13, 1.21]), (314, [1.07, 1.15, 1.23, 1.3]),
    (316, [1.1, 1.18, 1.26]), (318, [1.12, 1.2, 1.28, 1.35]), (320, [1.14, 1.22, 1.3]),
    (322, [1.16, 1.24, 1.32, 1.4]), (324, [1.18, 1.26, 1.34]), (326, [1.2, 1.28, 1.36, 1.44]),
    (328, [1.22, 1.3, 1.38]), (330, [1.24, 1.32, 1.4, 1.48]), (332, [1.26, 1.34, 1.42]),
    (334, [1.28, 1.36, 1.44, 1.52]), (336, [1.3, 1.38, 1.46]), (338, [1.32, 1.4, 1.5]),
    (340, [1.35, 1.45]),
]
C_SPARSE = [
    (53, 0.65), (84, 0.7), (86, 0.72), (90, 1.05), (93, 1.07), (100, 1.08), (110, 1.1),
    (118, 1.12), (125, 1.13), (130, 0.6), (140, 0.52), (150, 0.45), (160, 0.38), (168, 1.25),
    (172, 1.3), (175, 1.38), (177, 1.2), (178, 1.5), (183, 1.68), (185, 1.55), (187, 1.75),
    (188, 1.4), (190, 1.5), (193, 1.62), (196, 1.75), (197, 1.88), (199, 1.82), (202, 1.82),
    (180, 0.35), (184, 0.3), (196, 0.2), (197, 0.45), (199, 0.55), (200, 0.35), (202, 0.6),
    (204, 0.72), (205, 0.45), (207, 0.65), (209, 0.85), (211, 0.7), (213, 0.9), (215, 0.55),
    (218, 0.8), (222, 0.75), (225, 0.6), (228, 0.85), (230, 1.3), (235, 1.2), (238, 1.1),
    (237.8, 0.51), (241.7, 0.42), (246, 1.1), (256, 1.05), (263, 1.1), (270, 1.05),
    (273, 0.95), (285, 1.1), (290, 1.36), (296, 1.1), (303, 1.3), (308, 1.35), (312, 1.0),
    (316, 1.45), (320, 1.05), (325, 1.55), (328, 1.15), (332, 1.6), (335, 1.22), (338, 1.58),
    (341, 1.65), (342, 1.3), (346.8, 1.25), (344, 1.45),
]
C_MARKED_X = [205.5, 205.0, 207.0, 217.0, 219.5, 221.0, 241.7]
C_MARKED_Y = [1.6, 1.45, 1.43, 1.21, 1.24, 1.22, 0.95]

PANEL_LETTERS = ["a", "b", "c"]
Y_TITLES = ["SA1/Offshore", "SA2/SA1", "SA3/SA1"]
Y_MAX = [2, 3, 2]
X_TICKS = [0, 50, 100, 150, 200, 250, 300, 350]
X_TITLE = "Offshore winddirection (°N)"
SECTOR_LIMITS = [95, 275]   # red reference directions
RATIO_REF = 1               # dashed reference ratio

# ---------------------------------------------------------------------------
# Styling
# ---------------------------------------------------------------------------
W, H = 880, 559
BLUE = "#0072BD"
GREEN = "#3fe03f"
RED = "#c0504d"
AX = "#3c3c3c"
TXT = "#262626"
FONT = "Liberation Sans, Arial, sans-serif"

LEFT_PX = 129          # x = 0 position
PX_PER_DEG = 2.1
X_END = (W - LEFT_PX) / PX_PER_DEG
# (top, bottom) pixel rows of each panel
ROWS = [(17, 133), (204, 318), (390, 504)]
LETTER_POS = [(22, 62), (25, 243), (19, 445)]


def unpack(cols):
    xs, ys = [], []
    for x, vals in cols:
        for v in vals:
            xs.append(x)
            ys.append(v)
    return xs, ys


fig = go.Figure()
panels = [
    (A_COLS, A_SPARSE, None, None),
    (B_COLS, B_SPARSE, B_MARKED_X, B_MARKED_Y),
    (C_COLS, C_SPARSE, C_MARKED_X, C_MARKED_Y),
]

layout = dict(
    width=W, height=H, margin=dict(l=0, r=0, t=0, b=0),
    paper_bgcolor="white", plot_bgcolor="white", showlegend=False,
    font=dict(family=FONT, color=TXT),
)
shapes, annotations = [], []

for i, (cols, sparse, mx, my) in enumerate(panels):
    sfx = "" if i == 0 else str(i + 1)
    xa, ya = "x" + sfx, "y" + sfx
    top, bot = ROWS[i]

    # reference lines below the markers
    for d in SECTOR_LIMITS:
        shapes.append(dict(type="line", xref=xa, yref=ya, x0=d, x1=d, y0=0, y1=Y_MAX[i],
                           line=dict(color=RED, width=1), layer="below"))
    shapes.append(dict(type="line", xref=xa, yref=ya, x0=0, x1=X_END, y0=RATIO_REF, y1=RATIO_REF,
                       line=dict(color="#4a4a4a", width=1, dash="8px,5px"), layer="below"))

    # dense cloud of observations
    xs, ys = unpack(cols)
    fig.add_trace(go.Scatter(x=xs, y=ys, mode="markers", xaxis=xa, yaxis=ya,
                             marker=dict(size=6.5, color=BLUE, line=dict(width=0)),
                             hoverinfo="skip"))
    # isolated observations
    fig.add_trace(go.Scatter(x=[p[0] for p in sparse], y=[p[1] for p in sparse],
                             mode="markers", xaxis=xa, yaxis=ya,
                             marker=dict(size=5.5, color=BLUE, line=dict(width=0)),
                             hoverinfo="skip"))
    if mx is not None:
        fig.add_trace(go.Scatter(x=mx, y=my, mode="markers", xaxis=xa, yaxis=ya,
                                 marker=dict(symbol="x-thin", size=11, color=GREEN,
                                             line=dict(width=1.6, color=GREEN)),
                                 hoverinfo="skip"))

    layout["xaxis" + sfx] = dict(
        domain=[LEFT_PX / W, 1], anchor=ya, range=[0, X_END],
        tickvals=X_TICKS, ticks="inside", ticklen=6, tickwidth=1, tickcolor=AX,
        showline=True, linecolor=AX, linewidth=1, mirror="ticks",
        showgrid=False, zeroline=False,
        tickfont=dict(family=FONT, size=17, color=TXT),
        title=dict(text=X_TITLE, font=dict(family=FONT, size=17, color=TXT), standoff=3),
    )
    layout["yaxis" + sfx] = dict(
        domain=[(H - bot) / H, (H - top) / H], anchor=xa, range=[0, Y_MAX[i]],
        tickvals=list(range(Y_MAX[i] + 1)), ticks="inside", ticklen=6, tickwidth=1,
        tickcolor=AX, showline=True, linecolor=AX, linewidth=1, mirror="ticks",
        showgrid=False, zeroline=False,
        tickfont=dict(family=FONT, size=17, color=TXT),
        title=dict(text=Y_TITLES[i], font=dict(family=FONT, size=17, color=TXT), standoff=4),
    )

    lx, ly = LETTER_POS[i]
    annotations.append(dict(text=PANEL_LETTERS[i], xref="paper", yref="paper",
                            x=lx / W, y=1 - ly / H, xanchor="center", yanchor="middle",
                            showarrow=False,
                            font=dict(family="Open Sans, Noto Sans, sans-serif", size=46,
                                      color="black")))

layout["shapes"] = shapes
layout["annotations"] = annotations
fig.update_layout(**layout)
fig.write_html("out.html")
